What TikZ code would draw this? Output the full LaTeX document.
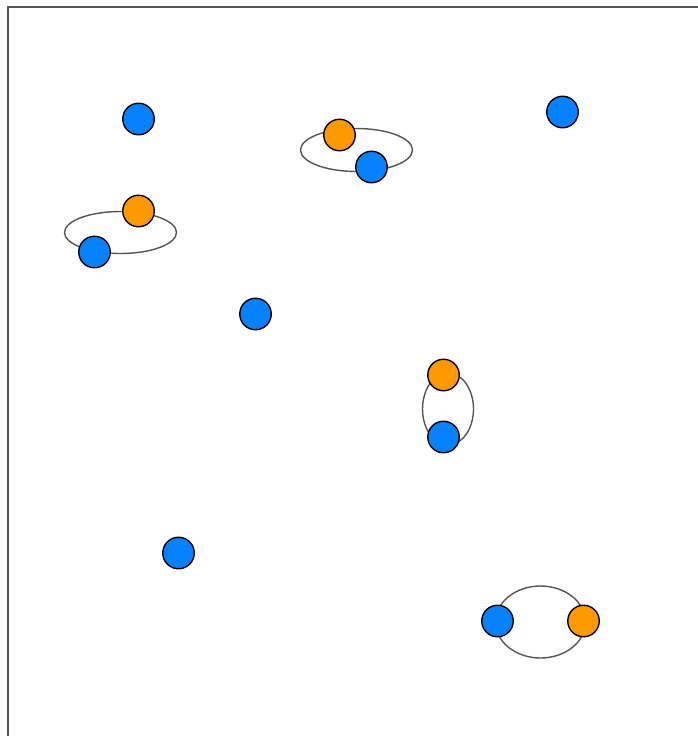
\documentclass[tikz,border=0pt]{standalone}
\definecolor{dotblue}{HTML}{0682FF}
\definecolor{dotorange}{HTML}{FF9900}
\definecolor{framegray}{HTML}{555555}
\tikzset{
  dot/.style={circle,draw=black,line width=1.4pt,minimum size=31.5pt,inner sep=0pt},
  bdot/.style={dot,fill=dotblue},
  odot/.style={dot,fill=dotorange},
  ring/.style={draw=framegray,line width=1.4pt},
}
\begin{document}
\begin{tikzpicture}[x=1pt,y=-1pt]
\path[use as bounding box] (0,0) rectangle (697,736);
\draw[framegray,line width=2.2pt] (7.8,740) -- (7.8,7) -- (700,7);
\begin{scope}[shift={(0.5,1)}]
% rings
\draw[ring] (356,149) ellipse [x radius=56,y radius=21.5];
\draw[ring] (120,231.5) ellipse [x radius=56,y radius=21];
\draw[ring] (447.5,408) ellipse [x radius=25.5,y radius=36];
\draw[ring] (540,621) ellipse [x radius=45,y radius=36];
% dots
\node[bdot] (b1) at (138,118) {};
\node[bdot] (b2) at (562,111) {};
\node[odot] (o1) at (339,134) {};
\node[bdot] (b3) at (371,166) {};
\node[odot] (o2) at (138,210) {};
\node[bdot] (b4) at (94,251) {};
\node[bdot] (b5) at (255,313) {};
\node[odot] (o3) at (443,374) {};
\node[bdot] (b6) at (443,436) {};
\node[bdot] (b7) at (178,552) {};
\node[bdot] (b8) at (497,620) {};
\node[odot] (o4) at (583,620) {};
\end{scope}
\end{tikzpicture}
\end{document}
